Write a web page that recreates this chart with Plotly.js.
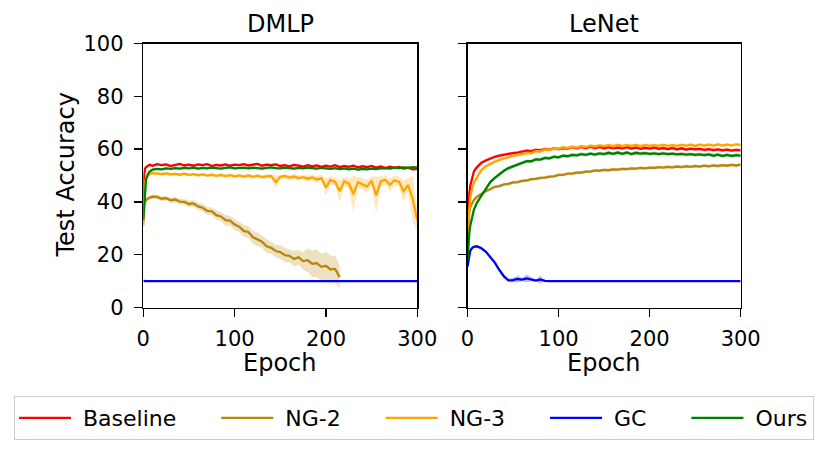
<!DOCTYPE html>
<html>
<head>
<meta charset="utf-8">
<script src="https://cdn.plot.ly/plotly-3.0.1.min.js"></script>
<style>
  html, body { margin: 0; padding: 0; background: #fff; }
  #chart { width: 831px; height: 451px; }
</style>
</head>
<body>
<div id="chart"></div>
<script>
const epochs = [0,1,2,3,5,7,10,
  15,20,25,30,35,40,45,50,55,60,
  65,70,75,80,85,90,95,100,105,110,
  115,120,125,130,135,140,145,150,155,160,
  165,170,175,180,185,190,195,200,205,210,
  215,220,225,230,235,240,245,250,255,260,
  265,270,275,280,285,290,295,300];

const seriesNames = ['Baseline', 'NG-2', 'NG-3', 'GC', 'Ours'];

// ---- DMLP ----
const dmlpBaseline = [35.0,50.5,52.6,53.2,53.6,54.1,53.7,
  54.3,53.9,54.2,53.6,54.0,54.4,53.8,54.1,53.7,54.2,
  53.9,54.3,53.6,54.0,53.8,54.2,53.7,54.1,53.9,54.3,
  53.8,54.0,54.4,53.7,54.1,53.9,54.2,53.6,53.9,53.5,
  54.0,53.7,53.4,53.9,53.5,53.8,53.3,53.7,53.4,53.9,
  53.2,53.6,53.3,53.7,53.1,53.5,53.2,53.6,53.0,53.4,
  52.8,53.3,52.9,53.2,52.6,53.0,52.3,52.5];
const dmlpNg2 = [38.5,39.5,40.2,40.7,41.3,41.6,42.0,
  41.9,41.2,41.4,40.6,40.9,40.1,40.0,39.2,39.4,38.3,
  37.8,36.6,36.4,35.0,34.5,33.1,32.9,31.4,30.6,29.0,
  28.6,26.6,25.8,24.9,23.2,22.6,21.4,21.0,19.8,19.6,
  18.4,19.0,17.6,17.9,16.6,16.8,15.4,15.8,14.4,14.6,
  11.5,null,null,null,null,null,null,null,null,null,
  null,null,null,null,null,null,null,null];
const dmlpNg2Sd = [0.6,0.6,0.7,0.7,0.8,0.8,0.8,
  0.9,1.0,0.9,1.1,1.0,1.2,1.1,1.3,1.2,1.4,
  1.5,1.6,1.5,1.8,1.7,2.0,1.8,2.1,2.0,2.3,
  2.2,2.4,2.6,2.3,2.5,2.2,2.4,2.6,2.8,2.5,
  3.0,2.8,3.2,4.5,5.0,5.2,5.0,5.4,5.2,5.0,
  4.5,null,null,null,null,null,null,null,null,null,
  null,null,null,null,null,null,null,null];
const dmlpNg3 = [31.0,44.0,47.5,49.0,50.0,50.6,50.9,
  50.7,50.5,50.8,50.4,50.6,50.3,50.7,50.2,50.5,50.1,
  50.4,50.0,50.3,49.9,50.2,49.8,50.1,49.7,50.0,49.6,
  50.0,49.5,49.9,49.4,49.7,49.8,47.5,49.5,49.8,49.2,
  49.6,49.0,49.4,48.8,49.3,48.5,49.0,45.5,48.3,47.6,
  44.0,47.8,47.0,43.0,47.5,46.8,45.8,48.0,42.5,47.8,
  48.4,46.5,48.2,47.6,44.0,46.4,41.0,33.0];
const dmlpNg3Sd = [1.0,0.8,0.7,0.6,0.6,0.6,0.6,
  0.6,0.6,0.6,0.6,0.6,0.6,0.6,0.6,0.6,0.6,
  0.6,0.6,0.7,0.6,0.7,0.6,0.7,0.7,0.7,0.7,
  0.7,0.8,0.7,0.8,0.8,0.8,2.5,0.9,0.9,1.0,
  1.0,1.1,1.0,1.2,1.1,1.3,1.2,3.5,1.4,1.6,
  4.0,1.6,1.8,7.0,2.0,2.2,2.5,1.6,7.0,1.8,
  1.8,2.5,1.8,2.0,4.0,2.6,9.0,4.0];
const dmlpGc = [10.1,10.0,10.0,10.0,10.0,10.0,10.0,
  10.0,10.0,10.0,10.0,10.0,10.0,10.0,10.0,10.0,10.0,
  10.0,10.0,10.0,10.0,10.0,10.0,10.0,10.0,10.0,10.0,
  10.0,10.0,10.0,10.0,10.0,10.0,10.0,10.0,10.0,10.0,
  10.0,10.0,10.0,10.0,10.0,10.0,10.0,10.0,10.0,10.0,
  10.0,10.0,10.0,10.0,10.0,10.0,10.0,10.0,10.0,10.0,
  10.0,10.0,10.0,10.0,10.0,10.0,10.0,10.0];
const dmlpOurs = [33.0,40.0,45.0,48.5,50.5,51.5,52.2,
  52.5,52.3,52.7,52.5,52.8,52.6,52.9,52.7,53.0,52.6,
  52.9,52.7,53.0,52.8,52.6,52.9,53.1,52.7,52.9,53.0,
  52.7,53.0,52.8,52.6,52.9,53.1,52.8,52.7,53.0,52.8,
  52.6,52.9,52.7,53.0,52.8,52.6,52.9,52.7,52.5,52.8,
  52.4,52.7,52.3,52.6,52.2,52.5,52.3,52.6,52.4,52.7,
  52.8,52.6,53.0,52.8,53.1,52.9,53.2,53.0];

// ---- LeNet ----
const lenetBaseline = [28.0,38.0,43.0,46.0,49.3,51.5,53.0,
  54.8,55.7,56.5,57.1,57.5,57.9,58.2,58.5,58.7,59.0,
  59.4,59.2,59.7,59.5,60.0,59.8,60.3,60.0,60.4,60.2,
  60.7,60.3,60.8,60.4,60.9,60.4,60.8,60.3,60.7,60.4,
  60.6,60.3,60.7,60.2,60.6,60.1,60.5,60.2,60.6,60.1,
  60.4,60.0,60.4,59.9,60.3,59.8,60.2,59.9,60.1,59.7,
  60.0,59.6,59.9,59.5,59.8,59.4,59.7,59.5];
const lenetNg2 = [30.0,34.0,36.5,38.0,39.5,40.7,41.8,
  43.0,44.1,44.8,45.7,46.0,46.6,46.8,47.4,47.5,48.0,
  48.1,48.6,48.7,49.1,49.2,49.6,49.7,50.2,50.2,50.7,
  50.7,51.1,51.1,51.5,51.5,51.9,51.8,52.1,52.0,52.3,
  52.2,52.5,52.4,52.7,52.6,52.9,52.7,53.0,52.9,53.2,
  53.0,53.3,53.1,53.4,53.2,53.5,53.3,53.6,53.4,53.7,
  53.5,53.8,53.6,53.9,53.7,54.0,53.8,54.1];
const lenetNg3 = [26.0,33.0,38.0,41.5,45.0,47.3,49.0,
  52.0,53.5,54.5,55.2,55.9,56.5,57.0,57.4,57.8,58.1,
  58.6,58.5,59.2,59.1,59.8,59.7,60.3,60.1,60.7,60.4,
  60.9,60.6,61.1,60.8,61.3,61.0,61.4,61.1,61.5,61.1,
  61.6,61.1,61.5,61.2,61.6,61.1,61.6,61.2,61.5,61.2,
  61.6,61.2,61.5,61.2,61.6,61.3,61.7,61.2,61.7,61.3,
  61.7,61.3,61.8,61.3,61.7,61.4,61.8,61.6];
const lenetGc = [15.5,18.0,20.0,21.5,22.5,23.0,23.2,
  22.5,21.2,19.3,17.0,14.2,11.8,10.3,10.4,10.8,10.6,
  11.0,10.7,10.2,10.6,10.1,10.0,10.0,10.0,10.0,10.0,
  10.0,10.0,10.0,10.0,10.0,10.0,10.0,10.0,10.0,10.0,
  10.0,10.0,10.0,10.0,10.0,10.0,10.0,10.0,10.0,10.0,
  10.0,10.0,10.0,10.0,10.0,10.0,10.0,10.0,10.0,10.0,
  10.0,10.0,10.0,10.0,10.0,10.0,10.0,10.0];
const lenetGcSd = [0.5,0.5,0.5,0.5,0.4,0.4,0.4,
  0.4,0.4,0.5,0.6,0.7,0.8,0.6,0.9,1.2,0.6,
  1.5,0.8,0.3,1.5,0.1,0.05,0.05,0.05,0.05,0.05,
  0.05,0.05,0.05,0.05,0.05,0.05,0.05,0.05,0.05,0.05,
  0.05,0.05,0.05,0.05,0.05,0.05,0.05,0.05,0.05,0.05,
  0.05,0.05,0.05,0.05,0.05,0.05,0.05,0.05,0.05,0.05,
  0.05,0.05,0.05,0.05,0.05,0.05,0.05,0.05];
const lenetOurs = [18.0,24.0,28.0,31.0,34.5,37.0,39.5,
  42.0,45.0,47.5,49.1,50.5,51.8,52.8,53.5,54.1,54.7,
  55.4,55.4,56.1,56.0,56.7,56.5,57.1,56.9,57.5,57.3,
  57.8,57.6,58.1,57.8,58.3,57.9,58.4,58.1,58.6,58.2,
  58.7,58.2,58.7,58.1,58.6,58.3,58.5,58.2,58.4,58.1,
  58.4,58.1,58.3,58.0,58.2,57.9,58.1,57.8,58.0,57.7,
  58.0,57.5,57.9,57.4,57.8,57.4,57.7,57.5];

// band half-width (std) read from the shaded areas; a single number = roughly constant
const dmlpSd = [0.5, dmlpNg2Sd, dmlpNg3Sd, 0.1, 0.4];
const lenetSd = [0.6, 0.6, 0.6, lenetGcSd, 0.7];

const dmlpSeries = [dmlpBaseline, dmlpNg2, dmlpNg3, dmlpGc, dmlpOurs];
const lenetSeries = [lenetBaseline, lenetNg2, lenetNg3, lenetGc, lenetOurs];

const colors = ['#ff0000', '#b8860b', '#ffa500', '#0000ff', '#008000'];
const bandColors = ['rgba(255,0,0,0.25)', 'rgba(184,134,11,0.25)', 'rgba(255,165,0,0.25)',
                    'rgba(0,0,255,0.25)', 'rgba(0,128,0,0.25)'];

const W = 831, H = 451;
const px = x => x / W;
const py = y => 1 - y / H;
const FONT = 'DejaVu Sans, Verdana, sans-serif';
const NB = '\u00a0';

const traces = [];

function addPanel(series, sds, xa, ya, inLegend) {
  series.forEach((vals, k) => {
    const xs = [], ys = [], lo = [], hi = [];
    vals.forEach((v, i) => {
      if (v === null) return;
      const sd = Array.isArray(sds[k]) ? sds[k][i] : sds[k];
      xs.push(epochs[i]); ys.push(v);
      lo.push(v - sd); hi.push(v + sd);
    });
    // shaded band: lower edge then upper edge filled to it
    traces.push({ x: xs, y: lo, xaxis: xa, yaxis: ya, mode: 'lines',
      line: { width: 0, color: bandColors[k] }, showlegend: false, hoverinfo: 'skip' });
    traces.push({ x: xs, y: hi, xaxis: xa, yaxis: ya, mode: 'lines', fill: 'tonexty',
      fillcolor: bandColors[k], line: { width: 0, color: bandColors[k] },
      showlegend: false, hoverinfo: 'skip' });
    // legend label: small lead-in gap, and column spacing after all but the last
    const label = NB + seriesNames[k] + (k < series.length - 1 ? NB.repeat(5) : '');
    traces.push({ x: xs, y: ys, xaxis: xa, yaxis: ya, mode: 'lines',
      line: { width: 2.3, color: colors[k] },
      name: label, legendgroup: seriesNames[k], showlegend: inLegend });
  });
}

addPanel(dmlpSeries, dmlpSd, 'x', 'y', true);
addPanel(lenetSeries, lenetSd, 'x2', 'y2', false);

const axisBase = {
  showline: true, mirror: true, linecolor: '#000', linewidth: 1.5,
  ticks: 'outside', ticklen: 8, tickwidth: 1.5, tickcolor: '#000',
  showgrid: false, zeroline: false, fixedrange: true,
  tickfont: { family: FONT, size: 21, color: '#000' }
};
const xTicks = [0, 100, 200, 300];
const yTicks = [0, 20, 40, 60, 80, 100];
const yDomain = [py(307.5), py(43.5)];
const labelFont = { family: FONT, size: 24, color: '#000' };

const layout = {
  width: W, height: H,
  margin: { l: 0, r: 0, t: 0, b: 0 },
  paper_bgcolor: '#fff', plot_bgcolor: '#fff',
  font: { family: FONT, size: 21, color: '#000' },
  xaxis: Object.assign({}, axisBase, { domain: [px(143.3), px(417.3)], range: [0, 300],
    tickvals: xTicks, anchor: 'y', ticklabelstandoff: 4 }),
  yaxis: Object.assign({}, axisBase, { domain: yDomain, range: [0, 100],
    tickvals: yTicks, anchor: 'x', ticklabelstandoff: 6 }),
  xaxis2: Object.assign({}, axisBase, { domain: [px(467.5), px(740.7)], range: [0, 300],
    tickvals: xTicks, anchor: 'y2', ticklabelstandoff: 4 }),
  yaxis2: Object.assign({}, axisBase, { domain: yDomain, range: [0, 100],
    tickvals: yTicks, anchor: 'x2', showticklabels: false }),
  showlegend: true,
  legend: {
    orientation: 'h', x: px(14), y: py(396), xanchor: 'left', yanchor: 'top',
    bordercolor: '#cccccc', borderwidth: 1, bgcolor: '#fff', itemwidth: 52,
    font: { family: FONT, size: 22, color: '#000' }
  },
  annotations: [
    { text: 'DMLP', x: px(280.3), y: py(24), xref: 'paper', yref: 'paper',
      showarrow: false, xanchor: 'center', yanchor: 'middle', font: labelFont },
    { text: 'LeNet', x: px(604.1), y: py(24), xref: 'paper', yref: 'paper',
      showarrow: false, xanchor: 'center', yanchor: 'middle', font: labelFont },
    { text: 'Epoch', x: px(280.3), y: py(363), xref: 'paper', yref: 'paper',
      showarrow: false, xanchor: 'center', yanchor: 'middle', font: labelFont },
    { text: 'Epoch', x: px(604.1), y: py(363), xref: 'paper', yref: 'paper',
      showarrow: false, xanchor: 'center', yanchor: 'middle', font: labelFont },
    { text: 'Test Accuracy', x: px(65), y: py(175.5), xref: 'paper', yref: 'paper',
      showarrow: false, textangle: -90, xanchor: 'center', yanchor: 'middle',
      font: labelFont }
  ]
};

Plotly.newPlot('chart', traces, layout, { displayModeBar: false, staticPlot: true });
</script>
</body>
</html>
